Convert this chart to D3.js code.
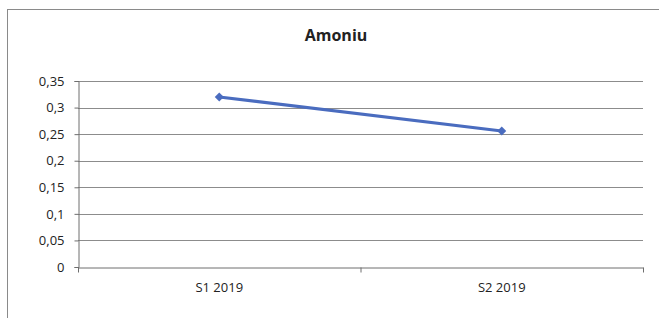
<!DOCTYPE html>
<html lang="ro">
<head>
<meta charset="UTF-8">
<title>Amoniu</title>
<script src="https://d3js.org/d3.v7.min.js"></script>
<style>
  body { margin: 0; background: #fff; }
  text { font-family: "Open Sans", "Noto Sans", sans-serif; fill: #222; }
</style>
</head>
<body>
<svg width="659" height="318"></svg>
<script>
  const categories = ["S1 2019", "S2 2019"];
  const values = [0.32, 0.256];
  const yTicks = [0, 0.05, 0.1, 0.15, 0.2, 0.25, 0.3, 0.35];

  const svg = d3.select("svg");
  const margin = { left: 78, right: 16, top: 81, bottom: 51 };
  const width = 659, height = 318;

  // outer chart border (runs off the picture on the right and bottom)
  svg.append("rect")
    .attr("x", 7.5).attr("y", 9.5)
    .attr("width", 660).attr("height", 320)
    .attr("fill", "none").attr("stroke", "#8a8a8a").attr("stroke-width", 1);

  const x = d3.scaleBand().domain(categories)
    .range([margin.left, width - margin.right]);
  const y = d3.scaleLinear().domain([0, 0.35])
    .range([height - margin.bottom, margin.top]);

  const fmt = d => d3.format("")(d).replace(".", ",");

  // gridlines
  svg.append("g")
    .selectAll("line")
    .data(yTicks.slice(1))
    .join("line")
    .attr("x1", margin.left).attr("x2", width - margin.right)
    .attr("y1", d => Math.round(y(d)) + 0.5).attr("y2", d => Math.round(y(d)) + 0.5)
    .attr("stroke", "#8c8c8c").attr("stroke-width", 1);

  // y axis
  const yAxis = svg.append("g")
    .attr("transform", `translate(${margin.left + 0.5},0)`)
    .call(d3.axisLeft(y).tickValues(yTicks).tickFormat(fmt).tickSize(4).tickPadding(10));
  yAxis.select(".domain").attr("stroke", "#6e6e6e");
  yAxis.selectAll(".tick line").attr("stroke", "#6e6e6e");
  yAxis.selectAll("text").style("font-size", "13px").attr("fill", "#222");

  // x axis
  const xAxis = svg.append("g")
    .attr("transform", `translate(0,${Math.round(y(0)) + 0.5})`)
    .call(d3.axisBottom(x).tickSize(0).tickPadding(15));
  xAxis.select(".domain").attr("stroke", "#6e6e6e");
  xAxis.selectAll("text").style("font-size", "13px").attr("fill", "#222");
  // category boundary ticks
  const bounds = [x.range()[0], x(categories[1]), x.range()[1]];
  xAxis.selectAll(".bound")
    .data(bounds)
    .join("line")
    .attr("class", "bound")
    .attr("x1", d => d + 0.5).attr("x2", d => d + 0.5)
    .attr("y1", 0).attr("y2", 5)
    .attr("stroke", "#6e6e6e");

  // line series
  const cx = d => x(d) + x.bandwidth() / 2;
  const line = d3.line()
    .x((d, i) => cx(categories[i]))
    .y(d => y(d));
  svg.append("path")
    .datum(values)
    .attr("d", line)
    .attr("fill", "none")
    .attr("stroke", "#4a6cbf")
    .attr("stroke-width", 3);

  // diamond markers: squares turned 45 degrees
  svg.append("g")
    .selectAll("path")
    .data(values)
    .join("path")
    .attr("d", d3.symbol(d3.symbolSquare, 40))
    .attr("transform", (d, i) => `translate(${cx(categories[i])},${y(d)}) rotate(45)`)
    .attr("fill", "#4a6cbf");

  // title
  svg.append("text")
    .attr("x", 336).attr("y", 41)
    .attr("text-anchor", "middle")
    .style("font-size", "16px")
    .style("font-weight", "bold")
    .text("Amoniu");
</script>
</body>
</html>
